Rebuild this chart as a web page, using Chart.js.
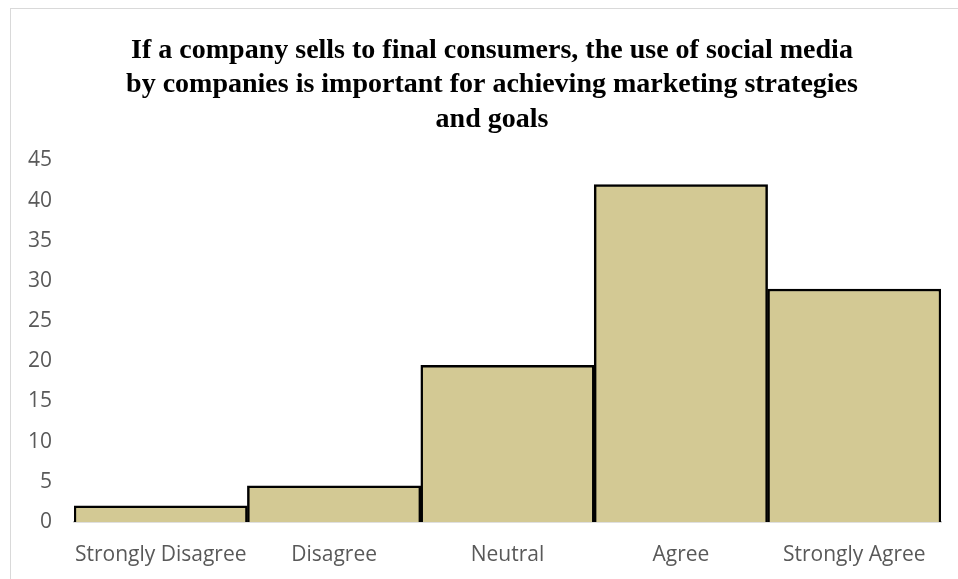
<!DOCTYPE html>
<html>
<head>
<meta charset="utf-8">
<title>Redes sociales - consumidores finales</title>
<script src="https://cdn.jsdelivr.net/npm/chart.js@4.4.1/dist/chart.umd.min.js"></script>
<style>
  html, body { margin: 0; padding: 0; background: #fff; overflow: hidden; }
  #marco {
    position: absolute;
    left: 10px;
    top: 8px;
    width: 1000px;
    height: 600px;
    border: 1px solid #d9d9d9;
    background: #fff;
  }
  #encuestaBarChart { position: absolute; left: 0; top: 0; }
</style>
</head>
<body>
<div id="marco">
  <canvas id="encuestaBarChart" width="980" height="571"></canvas>
</div>
<script>
"use strict";

//respuestas de la encuesta
var categorias = ["Strongly Disagree", "Disagree", "Neutral", "Agree", "Strongly Agree"];
var respuestas = [2, 4.5, 19.5, 42, 29];
var ticksEjeY = [0, 5, 10, 15, 20, 25, 30, 35, 40, 45];
var titulo = [
  "If a company sells to final consumers, the use of social media",
  "by companies is important for achieving marketing strategies",
  "and goals"
];

var colorBarra = "#d3c994";
var colorTexto = "#595959";
var fuenteEjes = { family: "'Open Sans', sans-serif", size: 21 };

//-------------
//- BAR CHART -
//-------------
var barChartCanvas = document.getElementById("encuestaBarChart").getContext("2d");

var barChartData = {
  labels: categorias,
  datasets: [
    {
      label: "Respuestas",
      backgroundColor: colorBarra,
      borderColor: "#000000",
      borderWidth: 2.5,
      borderSkipped: "bottom",
      barPercentage: 1,
      categoryPercentage: 1,
      data: respuestas
    }
  ]
};

var barChartOptions = {
  responsive: false,
  animation: false,
  layout: {
    padding: { left: 15, right: 33, top: 0, bottom: 0 }
  },
  plugins: {
    legend: { display: false },
    tooltip: { enabled: false },
    title: {
      display: true,
      text: titulo,
      color: "#000000",
      font: { family: "'Liberation Serif', 'Times New Roman', serif", size: 28, weight: "bold", lineHeight: 1.22 },
      padding: { top: 25, bottom: 24 }
    }
  },
  scales: {
    x: {
      grid: { display: false, drawTicks: false },
      border: { display: true, color: "#bfbfbf", width: 1.5 },
      ticks: {
        color: colorTexto,
        font: fuenteEjes,
        padding: 20,
        autoSkip: false,
        maxRotation: 0
      },
      //alto fijo del eje x
      afterFit: function (eje) {
        eje.height = 58;
      }
    },
    y: {
      min: 0,
      max: 45,
      grid: { display: false, drawTicks: false },
      border: { display: false },
      afterBuildTicks: function (eje) {
        eje.ticks = ticksEjeY.map(function (valor) { return { value: valor }; });
      },
      ticks: {
        color: colorTexto,
        font: fuenteEjes,
        padding: 22
      },
      //ancho fijo del eje y
      afterFit: function (eje) {
        eje.width = 48;
      }
    },
    //margen derecho vacio entre las barras y el borde
    margenDerecho: {
      type: "linear",
      position: "right",
      min: 0,
      max: 45,
      grid: { display: false, drawTicks: false },
      border: { display: false },
      ticks: { display: false },
      afterFit: function (eje) {
        eje.width = 17;
      }
    }
  }
};

var barChart = new Chart(barChartCanvas, {
  type: "bar",
  data: barChartData,
  options: barChartOptions
});
</script>
</body>
</html>
